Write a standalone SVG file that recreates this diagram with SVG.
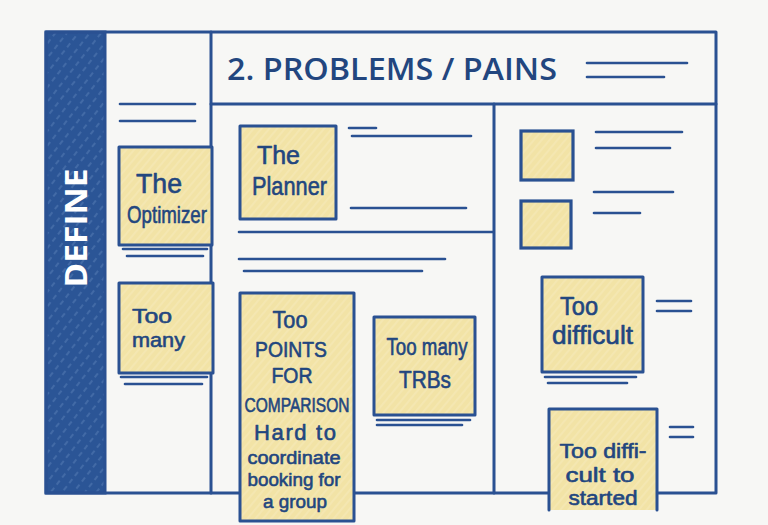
<svg xmlns="http://www.w3.org/2000/svg" width="768" height="525" viewBox="0 0 768 525">
  <defs>
    <pattern id="hatchBlue" width="9" height="9" patternUnits="userSpaceOnUse" patternTransform="rotate(38)">
      <rect width="9" height="9" fill="#2b5596"/>
      <line x1="1" y1="0" x2="1" y2="5" stroke="#9dbbe3" stroke-width="0.8" stroke-opacity="0.5"/>
    </pattern>
    <pattern id="hatchYellow" width="6" height="6" patternUnits="userSpaceOnUse" patternTransform="rotate(40)">
      <rect width="6" height="6" fill="#f2e3a6"/>
      <line x1="1" y1="0" x2="1" y2="6" stroke="#f7ecc2" stroke-width="0.8"/>
    </pattern>
    <style>
      .ln { stroke: #2a5192; stroke-width: 3; fill: none; stroke-linecap: round; stroke-linejoin: round; }
      .thin { stroke: #2a5192; stroke-width: 2.6; fill: none; stroke-linecap: round; }
      .note { fill: url(#hatchYellow); stroke: #2a5192; stroke-width: 3; stroke-linejoin: round; }
      .sq { fill: url(#hatchYellow); stroke: #2a5192; stroke-width: 3.2; }
      .h { font-family: "Open Sans", "Liberation Sans", sans-serif; font-weight: 600; fill: #22467f; }
      .t { font-family: "Liberation Sans", Arial, sans-serif; font-weight: 400; fill: #22467f; stroke: #22467f; stroke-width: 0.6; stroke-linejoin: round; }
      .c { text-anchor: middle; }
    </style>
  </defs>

  <rect width="768" height="525" fill="#f7f7f5"/>

  <!-- DEFINE side bar -->
  <g id="define-bar">
    <rect x="46" y="32" width="59" height="461" fill="url(#hatchBlue)" stroke="#2a5192" stroke-width="3"/>
    <text transform="translate(87,228) rotate(-90)" text-anchor="middle" font-family="'Open Sans', 'Liberation Sans', sans-serif" font-size="30" font-weight="700" fill="#ffffff" textLength="119" lengthAdjust="spacingAndGlyphs">DEFINE</text>
  </g>

  <!-- Frame -->
  <g id="frame">
    <rect class="ln" x="46" y="32" width="670" height="461"/>
    <line class="ln" x1="211" y1="32" x2="211" y2="493"/>
    <line class="ln" x1="211" y1="104" x2="716" y2="104"/>
    <line class="ln" x1="494" y1="104" x2="494" y2="493"/>
  </g>

  <!-- Header -->
  <g id="header">
    <text class="h" x="227" y="80" font-size="30" textLength="330" lengthAdjust="spacingAndGlyphs">2. PROBLEMS / PAINS</text>
    <line class="thin" x1="587" y1="63" x2="687" y2="63"/>
    <line class="thin" x1="587" y1="77" x2="664" y2="77"/>
  </g>

  <!-- Placeholder lines -->
  <g id="lines">
    <line class="thin" x1="120" y1="104" x2="195" y2="104"/>
    <line class="thin" x1="120" y1="121" x2="195" y2="121"/>
    <line class="thin" x1="123" y1="249" x2="207" y2="249"/>
    <line class="thin" x1="127" y1="256" x2="203" y2="256"/>
    <line class="thin" x1="121" y1="377" x2="207" y2="377"/>
    <line class="thin" x1="125" y1="384" x2="202" y2="384"/>

    <line class="thin" x1="349" y1="128" x2="376" y2="128"/>
    <line class="thin" x1="352" y1="136" x2="471" y2="136"/>
    <line class="thin" x1="351" y1="208" x2="466" y2="208"/>
    <line class="thin" x1="239" y1="232" x2="493" y2="232"/>
    <line class="thin" x1="239" y1="259" x2="445" y2="259"/>
    <line class="thin" x1="244" y1="271" x2="422" y2="271"/>
    <line class="thin" x1="377" y1="420" x2="470" y2="420"/>
    <line class="thin" x1="377" y1="425" x2="462" y2="425"/>

    <line class="thin" x1="596" y1="132" x2="682" y2="132"/>
    <line class="thin" x1="596" y1="148" x2="670" y2="148"/>
    <line class="thin" x1="594" y1="192" x2="673" y2="192"/>
    <line class="thin" x1="594" y1="213" x2="640" y2="213"/>
    <line class="thin" x1="657" y1="301" x2="691" y2="301"/>
    <line class="thin" x1="657" y1="311" x2="691" y2="311"/>
    <line class="thin" x1="545" y1="377" x2="636" y2="377"/>
    <line class="thin" x1="548" y1="383" x2="627" y2="383"/>
    <line class="thin" x1="670" y1="427" x2="693" y2="427"/>
    <line class="thin" x1="670" y1="437" x2="693" y2="437"/>
  </g>

  <!-- Small squares -->
  <g id="square-1"><rect class="sq" x="521" y="131" width="52" height="49"/></g>
  <g id="square-2"><rect class="sq" x="521" y="201" width="50" height="47"/></g>

  <!-- Sticky notes -->
  <g id="note-optimizer">
    <rect class="note" x="119" y="147" width="93" height="98"/>
    <text class="t" x="136" y="193" font-size="27" textLength="46" lengthAdjust="spacingAndGlyphs">The</text>
    <text class="t" x="127" y="223" font-size="24" textLength="80" lengthAdjust="spacingAndGlyphs">Optimizer</text>
  </g>

  <g id="note-too-many">
    <rect class="note" x="119" y="283" width="94" height="90"/>
    <text class="t" x="132" y="323" font-size="21" textLength="40" lengthAdjust="spacingAndGlyphs">Too</text>
    <text class="t" x="132" y="347" font-size="21" textLength="53" lengthAdjust="spacingAndGlyphs">many</text>
  </g>

  <g id="note-planner">
    <rect class="note" x="240" y="126" width="96" height="93"/>
    <text class="t" x="257" y="164" font-size="26" textLength="43" lengthAdjust="spacingAndGlyphs">The</text>
    <text class="t" x="252" y="195" font-size="26" textLength="75" lengthAdjust="spacingAndGlyphs">Planner</text>
  </g>

  <g id="note-points">
    <rect class="note" x="240" y="293" width="114" height="228"/>
    <text class="t c" x="290" y="328" font-size="24" textLength="35" lengthAdjust="spacingAndGlyphs">Too</text>
    <text class="t c" x="291" y="357" font-size="22" textLength="72" lengthAdjust="spacingAndGlyphs">POINTS</text>
    <text class="t c" x="292" y="383" font-size="22" textLength="41" lengthAdjust="spacingAndGlyphs">FOR</text>
    <text class="t c" x="297" y="412" font-size="20" textLength="105" lengthAdjust="spacingAndGlyphs">COMPARISON</text>
    <text class="t c" x="295" y="440" font-size="22" textLength="82" lengthAdjust="spacing">Hard to</text>
    <text class="t c" x="294" y="464" font-size="19" textLength="93" lengthAdjust="spacingAndGlyphs">coordinate</text>
    <text class="t c" x="294" y="486" font-size="19" textLength="93" lengthAdjust="spacingAndGlyphs">booking for</text>
    <text class="t c" x="295" y="508" font-size="19" textLength="64" lengthAdjust="spacingAndGlyphs">a group</text>
  </g>

  <g id="note-trbs">
    <rect class="note" x="374" y="317" width="101" height="98"/>
    <text class="t c" x="427" y="355" font-size="23" textLength="81" lengthAdjust="spacingAndGlyphs">Too many</text>
    <text class="t c" x="425" y="388" font-size="24" textLength="52" lengthAdjust="spacingAndGlyphs">TRBs</text>
  </g>

  <g id="note-too-difficult">
    <rect class="note" x="542" y="277" width="101" height="95"/>
    <text class="t" x="560" y="315" font-size="25" textLength="38" lengthAdjust="spacingAndGlyphs">Too</text>
    <text class="t" x="552" y="344" font-size="25" textLength="81" lengthAdjust="spacingAndGlyphs">difficult</text>
  </g>

  <g id="note-too-difficult-started">
    <rect x="549" y="409" width="108" height="101" fill="url(#hatchYellow)"/>
    <path class="ln" d="M549 510 L549 409 L657 409 L657 510"/>
    <text class="t c" x="603" y="458" font-size="20" textLength="87" lengthAdjust="spacingAndGlyphs">Too diffi-</text>
    <text class="t c" x="600" y="482" font-size="20" textLength="69" lengthAdjust="spacingAndGlyphs">cult to</text>
    <text class="t c" x="603" y="505" font-size="20" textLength="69" lengthAdjust="spacingAndGlyphs">started</text>
  </g>
</svg>
